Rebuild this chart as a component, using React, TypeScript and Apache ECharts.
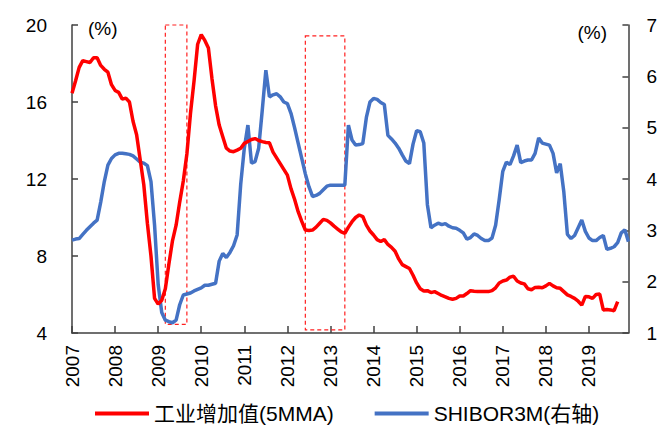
import React, { useEffect, useRef } from "react";
import * as echarts from "echarts";

// Monthly axis: 2007-01 .. 2019-12
const months: string[] = [];
for (let y = 2007; y <= 2019; y++) {
  for (let m = 1; m <= 12; m++) months.push(`${y}-${String(m).padStart(2, "0")}`);
}

// 工业增加值 (5-month moving average), %
const industrialVA: (number | null)[] = [
  16.45, 17.1, 17.8, 18.15, 18.1, 18.05, 18.3, 18.3, 17.9, 17.7, 17.55, 16.9,
  16.6, 16.5, 16.15, 16.2, 16.0, 15.0, 14.3, 13.0, 11.7, 9.7, 8.0, 5.8,
  5.5, 5.7, 6.3, 7.6, 8.8, 9.6, 10.8, 11.9, 13.3, 15.4, 17.1, 19.0,
  19.5, 19.2, 18.8, 17.2, 15.8, 14.8, 14.2, 13.6, 13.45, 13.42, 13.5, 13.6,
  13.85, 13.95, 14.05, 14.1, 14.0, 13.94, 13.9, 13.88, 13.4, 13.1, 12.8, 12.5,
  12.2, 11.5, 10.95, 10.3, 9.8, 9.35, 9.32, 9.35, 9.5, 9.7, 9.9, 9.85,
  9.72, 9.55, 9.4, 9.25, 9.18, 9.5, 9.78, 10.0, 10.13, 10.05, 9.6, 9.3,
  9.09, 8.85, 8.75, 8.85, 8.6, 8.45, 8.25, 7.85, 7.55, 7.45, 7.35, 7.0,
  6.6, 6.3, 6.18, 6.2, 6.1, 6.15, 6.05, 5.95, 5.88, 5.8, 5.75, 5.8,
  5.92, 5.92, 6.05, 6.2, 6.17, 6.15, 6.15, 6.15, 6.15, 6.2, 6.35, 6.6,
  6.7, 6.75, 6.9, 6.95, 6.7, 6.6, 6.55, 6.3, 6.25, 6.37, 6.38, 6.35,
  6.45, 6.58, 6.45, 6.35, 6.32, 6.15, 5.98, 5.9, 5.8, 5.65, 5.45, 5.9,
  5.88, 5.8, 6.0, 6.02, 5.2, 5.22, 5.2, 5.16, 5.63, null, null, null,
];

// SHIBOR 3M, % (right axis)
const shibor3m: number[] = [
  2.81, 2.83, 2.84, 2.92, 3.0, 3.07, 3.14, 3.2, 3.55, 3.95, 4.27, 4.4,
  4.47, 4.5, 4.5, 4.49, 4.48, 4.45, 4.39, 4.33, 4.31, 4.26, 3.95, 3.1,
  1.95, 1.4, 1.25, 1.22, 1.2, 1.25, 1.55, 1.74, 1.76, 1.78, 1.82, 1.85,
  1.88, 1.93, 1.93, 1.95, 1.97, 2.4, 2.55, 2.47, 2.57, 2.7, 2.91, 3.9,
  4.6, 5.05, 4.31, 4.34, 4.6, 5.34, 6.12, 5.6, 5.64, 5.66, 5.6, 5.5,
  5.47, 5.28, 5.0, 4.7, 4.4, 4.1, 3.85, 3.66, 3.68, 3.72, 3.79, 3.86,
  3.88, 3.88, 3.88, 3.88, 3.88, 5.05, 4.76, 4.66, 4.67, 4.69, 5.2, 5.5,
  5.57, 5.55, 5.49, 5.45, 4.85, 4.78, 4.7, 4.6, 4.47, 4.35, 4.3, 4.68,
  4.94, 4.92, 4.7, 3.5, 3.05, 3.1, 3.14, 3.11, 3.13, 3.08, 3.05, 3.04,
  3.0, 2.95, 2.83, 2.86, 2.93, 2.9, 2.84, 2.8, 2.8, 2.85, 3.1, 3.6,
  4.15, 4.33, 4.28, 4.45, 4.66, 4.32, 4.35, 4.37, 4.37, 4.5, 4.8, 4.7,
  4.68, 4.66, 4.5, 4.12, 4.3, 3.75, 2.92, 2.84, 2.9, 3.05, 3.2, 2.98,
  2.85, 2.8, 2.8, 2.86, 2.9, 2.63, 2.65, 2.68, 2.76, 2.95, 3.01, 2.78,
];

const leftTicks = { min: 4, max: 20, interval: 4 };
const rightTicks = { min: 1, max: 7, interval: 1 };

// Highlighted periods: [start index, end index, top, bottom] on the left axis scale
const highlightBoxes: [number, number, number, number][] = [
  [25.5, 32.4, 20, 4.45],
  [64.7, 76.2, 19.43, 4.16],
];

const FONT = '"Liberation Sans", Arial, "Noto Sans CJK SC", sans-serif';
const AXIS_COLOR = "#404040";

export default function App() {
  const ref = useRef<HTMLDivElement>(null);

  useEffect(() => {
    if (!ref.current) return;
    const chart = echarts.init(ref.current, undefined, { renderer: "svg" });
    chart.setOption({
      animation: false,
      backgroundColor: "#ffffff",
      textStyle: { fontFamily: FONT },
      grid: { left: 72, right: 29, top: 25, bottom: 97, containLabel: false },
      legend: {
        top: 398,
        left: 90,
        icon: "rect",
        itemWidth: 54,
        itemHeight: 4,
        itemGap: 41,
        textStyle: { fontSize: 21, color: "#000", fontFamily: FONT },
        data: ["工业增加值(5MMA)", "SHIBOR3M(右轴)"],
      },
      graphic: [
        {
          type: "text",
          left: 88,
          top: 19,
          style: { text: "(%)", fontSize: 19, fill: "#000", fontFamily: FONT },
        },
        {
          type: "text",
          right: 53,
          top: 23,
          style: { text: "(%)", fontSize: 19, fill: "#000", fontFamily: FONT },
        },
      ],
      xAxis: {
        type: "category",
        data: months,
        boundaryGap: false,
        axisLine: { show: true, lineStyle: { color: AXIS_COLOR, width: 1.5 } },
        axisTick: {
          show: true,
          inside: true,
          length: 7,
          interval: (i: number) => i % 12 === 0,
          lineStyle: { color: AXIS_COLOR, width: 1.5 },
        },
        axisLabel: {
          interval: (i: number) => i % 12 === 0,
          formatter: (v: string) => v.slice(0, 4),
          rotate: 90,
          margin: 12,
          fontSize: 19,
          color: "#000",
          fontFamily: FONT,
        },
        splitLine: { show: false },
      },
      yAxis: [
        {
          type: "value",
          ...leftTicks,
          axisLine: { show: true, lineStyle: { color: AXIS_COLOR, width: 1.5 } },
          axisTick: { show: true, inside: true, length: 6, lineStyle: { color: AXIS_COLOR, width: 1.5 } },
          axisLabel: { fontSize: 19, color: "#000", margin: 25, fontFamily: FONT },
          splitLine: { show: false },
        },
        {
          type: "value",
          position: "right",
          ...rightTicks,
          axisLine: { show: true, lineStyle: { color: AXIS_COLOR, width: 1.5 } },
          axisTick: { show: true, inside: true, length: 6, lineStyle: { color: AXIS_COLOR, width: 1.5 } },
          axisLabel: { fontSize: 19, color: "#000", margin: 18, fontFamily: FONT },
          splitLine: { show: false },
        },
      ],
      series: [
        {
          name: "工业增加值(5MMA)",
          type: "line",
          yAxisIndex: 0,
          data: industrialVA,
          showSymbol: false,
          symbol: "none",
          lineStyle: { color: "#FF0000", width: 3.5 },
          itemStyle: { color: "#FF0000" },
          z: 3,
          markArea: {
            silent: true,
            itemStyle: {
              color: "rgba(0,0,0,0)",
              borderColor: "#FF2020",
              borderWidth: 1.2,
              borderType: [4, 3],
            },
            data: highlightBoxes.map(([x0, x1, top, bottom]) => [
              { coord: [x0, top] },
              { coord: [x1, bottom] },
            ]),
          },
        },
        {
          name: "SHIBOR3M(右轴)",
          type: "line",
          yAxisIndex: 1,
          data: shibor3m,
          showSymbol: false,
          symbol: "none",
          lineStyle: { color: "#4472C4", width: 3.5 },
          itemStyle: { color: "#4472C4" },
          z: 2,
        },
      ],
    });
    return () => chart.dispose();
  }, []);

  return (
    <div
      ref={ref}
      style={{ position: "fixed", left: 0, top: 0, width: 660, height: 430, background: "#fff" }}
    />
  );
}
